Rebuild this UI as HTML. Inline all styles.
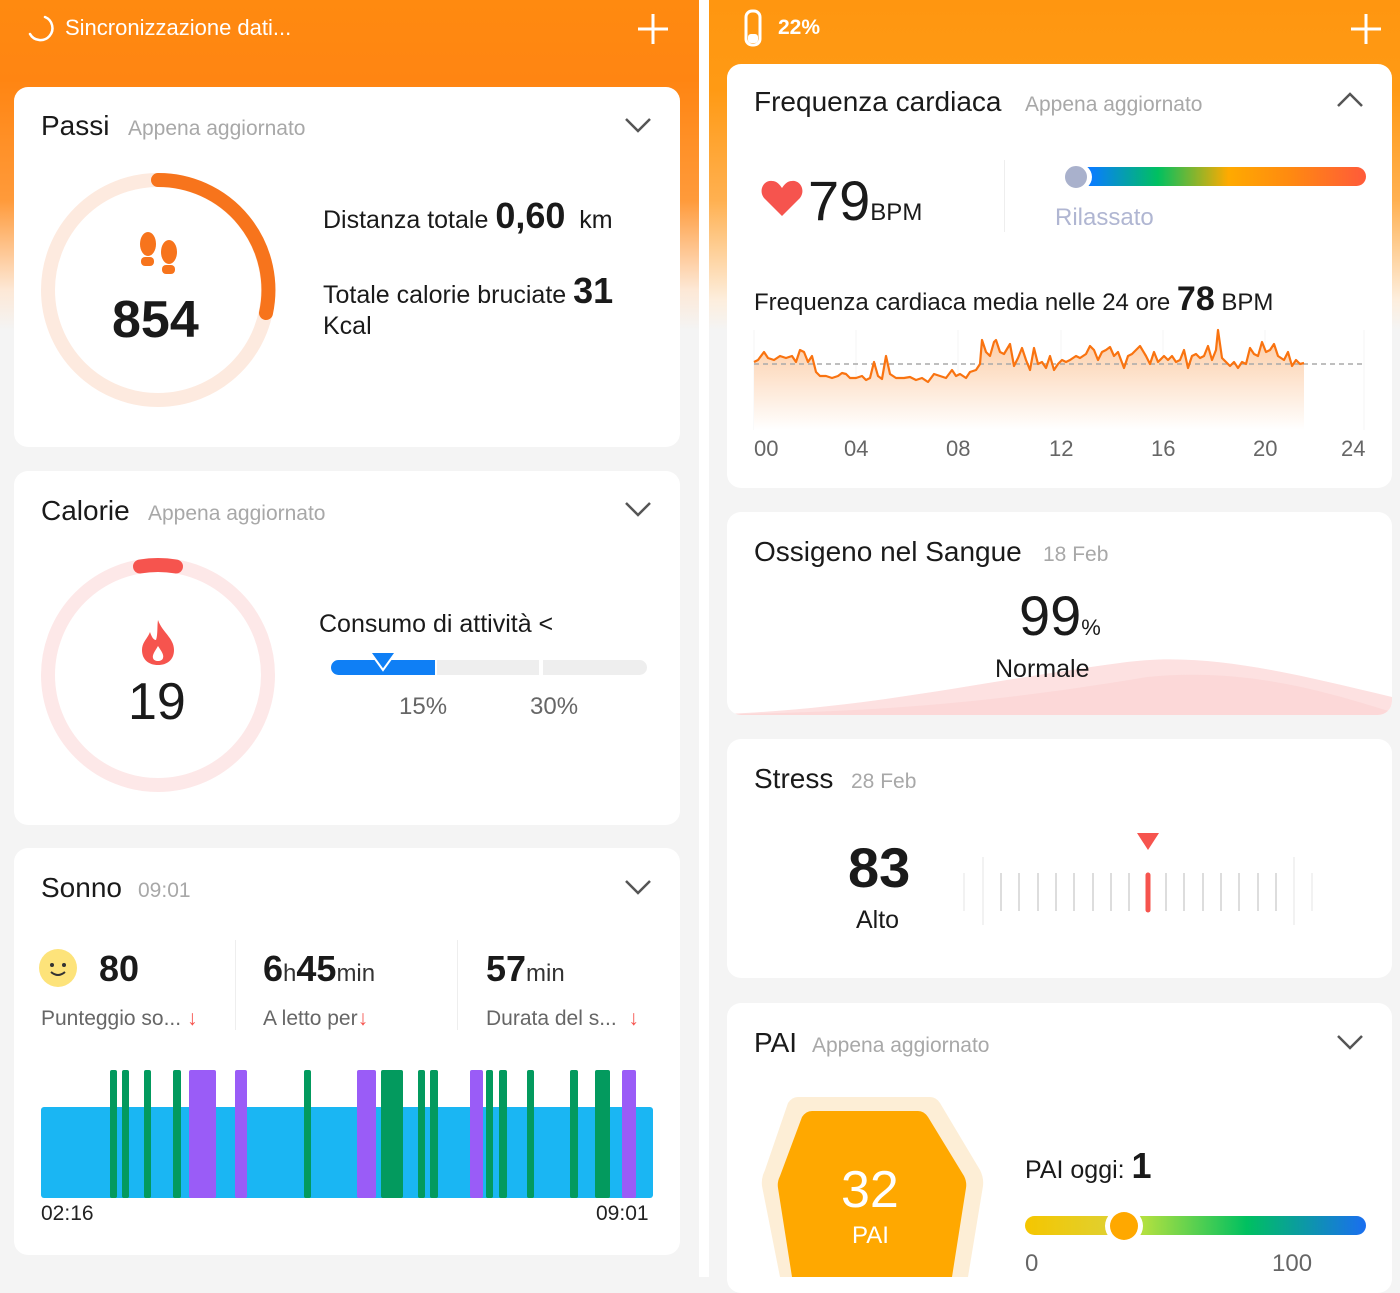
<!DOCTYPE html>
<html><head><meta charset="utf-8"><style>
*{margin:0;padding:0;box-sizing:border-box}
body{width:1400px;height:1277px;overflow:hidden;background:#f4f4f4;font-family:"Liberation Sans",sans-serif;color:#1a1a1a;position:relative}
.a{position:absolute;white-space:nowrap}
.card{position:absolute;background:#fff;border-radius:14px}
.t{font-size:28px;color:#1a1a1a}
.s{font-size:21px;color:#a8a8a8}
.g{color:#666}
</style></head><body>
<div class="a" style="left:0;top:0;width:699px;height:330px;background:linear-gradient(180deg,#ff8a10 0,#ff8512 80px,#ff9a3a 200px,#fde8d6 290px,#f4f4f4 330px)"></div>
<div class="a" style="left:709px;top:0;width:691px;height:330px;background:linear-gradient(180deg,#ff9610 0,#ff9a14 90px,#ffb050 200px,#fdeedd 300px,#f4f4f4 330px)"></div>
<div class="a" style="left:699px;top:0;width:10px;height:1277px;background:#fff"></div>

<!-- top bar left -->
<svg class="a" style="left:24px;top:12px" width="34" height="34"><path d="M21 5 A12 12 0 1 1 6 22" fill="none" stroke="#fff" stroke-width="2.5" stroke-linecap="round"/></svg>
<div class="a" style="left:65px;top:15px;font-size:22px;color:#fff">Sincronizzazione dati...</div>
<svg class="a" style="left:637px;top:13px" width="32" height="32"><path d="M16 1 V31 M1 16 H31" stroke="#fff" stroke-width="3"/></svg>
<svg class="a" style="left:742px;top:8px" width="22" height="40"><rect x="4" y="3" width="14" height="34" rx="6" fill="none" stroke="#fff" stroke-width="3"/><rect x="6" y="26" width="10" height="9" rx="3" fill="#fff"/></svg>
<div class="a" style="left:778px;top:16px;font-size:21px;color:#fff;font-weight:bold">22%</div>
<svg class="a" style="left:1350px;top:13px" width="32" height="32"><path d="M16 1 V31 M1 16 H31" stroke="#fff" stroke-width="3"/></svg>

<!-- Passi -->
<div class="card" style="left:14px;top:87px;width:666px;height:360px"></div>
<div class="a t" style="left:41px;top:110px">Passi</div>
<div class="a s" style="left:128px;top:117px">Appena aggiornato</div>
<svg class="a" style="left:624px;top:116px" width="30" height="20"><path d="M2 3 L14 15 L26 3" fill="none" stroke="#555" stroke-width="2.5"/></svg>
<svg class="a" style="left:38px;top:170px" width="240" height="240"><circle cx="120" cy="120" r="110" fill="none" stroke="#fdeadf" stroke-width="14"/><path d="M120 10 A110 110 0 0 1 228 143" fill="none" stroke="#f7741c" stroke-width="14" stroke-linecap="round"/></svg>
<svg class="a" style="left:138px;top:230px" width="42" height="48"><ellipse cx="10" cy="14" rx="8" ry="12" fill="#f7741c"/><rect x="3" y="27" width="13" height="9" rx="4" fill="#f7741c"/><ellipse cx="31" cy="22" rx="8" ry="12" fill="#f7741c"/><rect x="24" y="35" width="13" height="9" rx="4" fill="#f7741c"/></svg>
<div class="a" style="left:112px;top:290px;font-size:52px;font-weight:bold">854</div>
<div class="a" style="left:323px;top:195px;font-size:25px">Distanza totale <b style="font-size:36px">0,60</b>&nbsp; km</div>
<div class="a" style="left:323px;top:270px;font-size:25px">Totale calorie bruciate <b style="font-size:36px">31</b></div>
<div class="a" style="left:323px;top:312px;font-size:25px">Kcal</div>

<!-- Calorie -->
<div class="card" style="left:14px;top:471px;width:666px;height:354px"></div>
<div class="a t" style="left:41px;top:495px">Calorie</div>
<div class="a s" style="left:148px;top:502px">Appena aggiornato</div>
<svg class="a" style="left:624px;top:500px" width="30" height="20"><path d="M2 3 L14 15 L26 3" fill="none" stroke="#555" stroke-width="2.5"/></svg>
<svg class="a" style="left:38px;top:555px" width="240" height="240"><circle cx="120" cy="120" r="110" fill="none" stroke="#fde8e8" stroke-width="14"/><path d="M102 11.5 A110 110 0 0 1 138 11.5" fill="none" stroke="#f6544e" stroke-width="14" stroke-linecap="round"/></svg>
<svg class="a" style="left:140px;top:618px" width="36" height="48"><path d="M18 2 C22 14 34 20 34 32 C34 42 27 47 18 47 C9 47 2 42 2 32 C2 24 8 20 10 14 C12 20 14 22 16 22 C18 16 17 8 18 2Z" fill="#f6544e"/><path d="M18 28 C22 34 24 37 23 40 C22 44 14 44 13 40 C12 37 15 33 18 28Z" fill="#fff"/></svg>
<div class="a" style="left:128px;top:672px;font-size:52px">19</div>
<div class="a" style="left:319px;top:610px;font-size:25px">Consumo di attività &lt;</div>
<div class="a" style="left:331px;top:660px;width:104px;height:15px;background:#0f7ff5;border-radius:8px 0 0 8px"></div>
<div class="a" style="left:437px;top:660px;width:102px;height:15px;background:#eeeeee"></div>
<div class="a" style="left:543px;top:660px;width:104px;height:15px;background:#eeeeee;border-radius:0 8px 8px 0"></div>
<svg class="a" style="left:368px;top:650px" width="30" height="24"><path d="M2 2 L28 2 L15 20Z" fill="#0f7ff5" stroke="#fff" stroke-width="2"/></svg>
<div class="a g" style="left:399px;top:693px;font-size:24px">15%</div>
<div class="a g" style="left:530px;top:693px;font-size:24px">30%</div>

<!-- Sonno -->
<div class="card" style="left:14px;top:848px;width:666px;height:407px"></div>
<div class="a t" style="left:41px;top:872px">Sonno</div>
<div class="a s" style="left:138px;top:879px">09:01</div>
<svg class="a" style="left:624px;top:878px" width="30" height="20"><path d="M2 3 L14 15 L26 3" fill="none" stroke="#555" stroke-width="2.5"/></svg>
<svg class="a" style="left:38px;top:948px" width="40" height="40"><circle cx="20" cy="20" r="19" fill="#fde37a"/><circle cx="14" cy="17" r="2" fill="#333"/><circle cx="26" cy="17" r="2" fill="#333"/><path d="M13 24 Q20 30 27 24" fill="none" stroke="#333" stroke-width="2"/></svg>
<div class="a" style="left:99px;top:948px;font-size:36px;font-weight:bold">80</div>
<div class="a" style="left:263px;top:948px;font-size:36px;font-weight:bold">6<span style="font-size:24px;font-weight:normal;color:#333">h</span>45<span style="font-size:24px;font-weight:normal;color:#333">min</span></div>
<div class="a" style="left:486px;top:948px;font-size:36px;font-weight:bold">57<span style="font-size:24px;font-weight:normal;color:#333">min</span></div>
<div class="a" style="left:235px;top:940px;width:1px;height:90px;background:#eee"></div>
<div class="a" style="left:457px;top:940px;width:1px;height:90px;background:#eee"></div>
<div class="a g" style="left:41px;top:1007px;font-size:21px">Punteggio so... <span style="color:#f6544e">↓</span></div>
<div class="a g" style="left:263px;top:1007px;font-size:21px">A letto per<span style="color:#f6544e">↓</span></div>
<div class="a g" style="left:486px;top:1007px;font-size:21px">Durata del s... &nbsp;<span style="color:#f6544e">↓</span></div>
<svg class="a" style="left:0;top:1060px" width="700" height="150">
<rect x="41" y="47" width="612" height="91" rx="3" fill="#1ab6f3"/>
<g fill="#039a5e">
<rect x="110" y="10" width="7" height="128" rx="2"/><rect x="122" y="10" width="7" height="128" rx="2"/><rect x="144" y="10" width="7" height="128" rx="2"/><rect x="173" y="10" width="8" height="128" rx="2"/><rect x="304" y="10" width="7" height="128" rx="2"/><rect x="381" y="10" width="22" height="128" rx="2"/><rect x="418" y="10" width="7" height="128" rx="2"/><rect x="430" y="10" width="8" height="128" rx="2"/><rect x="486" y="10" width="7" height="128" rx="2"/><rect x="499" y="10" width="8" height="128" rx="2"/><rect x="527" y="10" width="7" height="128" rx="2"/><rect x="570" y="10" width="8" height="128" rx="2"/><rect x="595" y="10" width="15" height="128" rx="2"/></g>
<g fill="#9a5cf7"><rect x="189" y="10" width="27" height="128" rx="2"/><rect x="235" y="10" width="12" height="128" rx="2"/><rect x="357" y="10" width="19" height="128" rx="2"/><rect x="470" y="10" width="13" height="128" rx="2"/><rect x="622" y="10" width="14" height="128" rx="2"/></g>
</svg>
<div class="a" style="left:41px;top:1202px;font-size:21px;color:#222">02:16</div>
<div class="a" style="left:596px;top:1202px;font-size:21px;color:#222">09:01</div>

<!-- HR -->
<div class="card" style="left:727px;top:64px;width:665px;height:424px"></div>
<div class="a t" style="left:754px;top:86px">Frequenza cardiaca</div>
<div class="a s" style="left:1025px;top:93px">Appena aggiornato</div>
<svg class="a" style="left:1336px;top:90px" width="30" height="20"><path d="M2 16 L14 4 L26 16" fill="none" stroke="#555" stroke-width="2.5"/></svg>
<svg class="a" style="left:760px;top:180px" width="44" height="38"><path d="M22 36 L4 18 C-2 10 4 0 12 1 C17 1 20 5 22 8 C24 5 27 1 32 1 C40 0 46 10 40 18Z" fill="#f6544e"/></svg>
<div class="a" style="left:808px;top:168px;font-size:56px;font-weight:500">79<span style="font-size:24px;font-weight:normal">BPM</span></div>
<div class="a" style="left:1004px;top:160px;width:1px;height:72px;background:#eee"></div>
<div class="a" style="left:1060px;top:167px;width:306px;height:19px;border-radius:10px;background:linear-gradient(90deg,#0a7cff 10%,#00c060 32%,#ffaa00 55%,#ff8a10 75%,#ff5a3a 100%)"></div>
<div class="a" style="left:1056px;top:162px;width:36px;height:30px;border-radius:50%;background:#fff"></div>
<div class="a" style="left:1062px;top:163px;width:28px;height:28px;border-radius:50%;background:#a9b1cc;border:3px solid #fff"></div>
<div class="a" style="left:1055px;top:204px;font-size:24px;color:#b0b6d2">Rilassato</div>
<div class="a" style="left:754px;top:280px;font-size:24px">Frequenza cardiaca media nelle 24 ore <b style="font-size:34px">78</b> BPM</div>
<svg class="a" style="left:0;top:0" width="1400" height="480">
<defs><linearGradient id="hf" x1="0" y1="0" x2="0" y2="1"><stop offset="0" stop-color="#fcc9a0"/><stop offset="1" stop-color="#fff"/></linearGradient></defs>
<g stroke="#f4f4f4" stroke-width="1"><line x1="754" y1="330" x2="754" y2="430"/><line x1="856" y1="330" x2="856" y2="430"/><line x1="958" y1="330" x2="958" y2="430"/><line x1="1061" y1="330" x2="1061" y2="430"/><line x1="1163" y1="330" x2="1163" y2="430"/><line x1="1265" y1="330" x2="1265" y2="430"/><line x1="1364" y1="330" x2="1364" y2="430"/></g>
<polygon fill="url(#hf)" points="754,362 758,360 764,352 768,358 774,360 780,356 786,358 792,356 796,362 800,350 804,352 808,362 812,356 816,372 820,376 826,376 832,378 838,376 842,373 846,374 850,378 856,378 862,376 866,380 870,378 874,362 878,376 882,379 886,356 890,374 896,378 904,378 910,377 916,380 922,378 928,382 934,374 940,376 946,378 952,370 956,376 960,374 966,378 970,372 976,370 980,364 982,340 986,352 990,356 994,342 996,340 1000,352 1004,354 1010,344 1014,366 1018,358 1022,348 1026,360 1030,370 1034,348 1038,364 1042,362 1046,368 1050,356 1054,370 1058,364 1062,360 1066,362 1070,360 1076,356 1080,358 1086,354 1090,346 1094,350 1098,360 1102,352 1106,350 1110,347 1114,356 1118,352 1124,368 1128,356 1132,354 1136,350 1140,346 1146,356 1150,364 1154,352 1158,362 1164,356 1168,360 1172,356 1176,362 1180,360 1184,350 1188,368 1192,356 1196,354 1200,358 1204,356 1208,346 1212,360 1216,350 1218,330 1222,358 1226,362 1230,366 1234,362 1238,368 1242,362 1246,364 1250,348 1254,354 1258,356 1262,342 1266,352 1270,350 1274,344 1278,356 1284,360 1288,352 1292,366 1296,360 1300,364 1304,363 1304,430 754,430"/>
<line x1="754" y1="364" x2="1364" y2="364" stroke="#aaa" stroke-width="1.5" stroke-dasharray="5,4"/>
<polyline fill="none" stroke="#f97310" stroke-width="2.2" stroke-linejoin="round" points="754,362 758,360 764,352 768,358 774,360 780,356 786,358 792,356 796,362 800,350 804,352 808,362 812,356 816,372 820,376 826,376 832,378 838,376 842,373 846,374 850,378 856,378 862,376 866,380 870,378 874,362 878,376 882,379 886,356 890,374 896,378 904,378 910,377 916,380 922,378 928,382 934,374 940,376 946,378 952,370 956,376 960,374 966,378 970,372 976,370 980,364 982,340 986,352 990,356 994,342 996,340 1000,352 1004,354 1010,344 1014,366 1018,358 1022,348 1026,360 1030,370 1034,348 1038,364 1042,362 1046,368 1050,356 1054,370 1058,364 1062,360 1066,362 1070,360 1076,356 1080,358 1086,354 1090,346 1094,350 1098,360 1102,352 1106,350 1110,347 1114,356 1118,352 1124,368 1128,356 1132,354 1136,350 1140,346 1146,356 1150,364 1154,352 1158,362 1164,356 1168,360 1172,356 1176,362 1180,360 1184,350 1188,368 1192,356 1196,354 1200,358 1204,356 1208,346 1212,360 1216,350 1218,330 1222,358 1226,362 1230,366 1234,362 1238,368 1242,362 1246,364 1250,348 1254,354 1258,356 1262,342 1266,352 1270,350 1274,344 1278,356 1284,360 1288,352 1292,366 1296,360 1300,364 1304,363"/>
</svg>
<div class="a g" style="left:754px;top:436px;font-size:22px">00</div>
<div class="a g" style="left:844px;top:436px;font-size:22px">04</div>
<div class="a g" style="left:946px;top:436px;font-size:22px">08</div>
<div class="a g" style="left:1049px;top:436px;font-size:22px">12</div>
<div class="a g" style="left:1151px;top:436px;font-size:22px">16</div>
<div class="a g" style="left:1253px;top:436px;font-size:22px">20</div>
<div class="a g" style="left:1341px;top:436px;font-size:22px">24</div>

<!-- Ossigeno -->
<div class="card" style="left:727px;top:512px;width:665px;height:203px;overflow:hidden">
<svg class="a" style="left:0;top:130px" width="665" height="73"><path d="M0 72 C150 65 250 40 400 20 C480 10 560 30 665 55 L665 73 L0 73Z" fill="#fde1e1"/><path d="M0 72 C180 70 300 55 420 35 C520 25 600 50 665 70 L665 73 L0 73Z" fill="#fcd2d2" opacity="0.6"/></svg>
</div>
<div class="a t" style="left:754px;top:536px">Ossigeno nel Sangue</div>
<div class="a s" style="left:1043px;top:543px">18 Feb</div>
<div class="a" style="left:1019px;top:583px;font-size:56px;font-weight:500">99<span style="font-size:22px">%</span></div>
<div class="a" style="left:995px;top:655px;font-size:25px">Normale</div>

<!-- Stress -->
<div class="card" style="left:727px;top:739px;width:665px;height:239px"></div>
<div class="a t" style="left:754px;top:763px">Stress</div>
<div class="a s" style="left:851px;top:770px">28 Feb</div>
<div class="a" style="left:848px;top:835px;font-size:56px;font-weight:bold">83</div>
<div class="a" style="left:856px;top:906px;font-size:25px">Alto</div>
<svg class="a" style="left:950px;top:830px" width="400" height="100">
<path d="M187 3 L209 3 L198 20Z" fill="#f6544e"/>
<g stroke="#ddd" stroke-width="2"><line x1="14" y1="43" x2="14" y2="81" stroke="#f2f2f2"/><line x1="33" y1="27" x2="33" y2="95" stroke="#f2f2f2"/><line x1="51" y1="43" x2="51" y2="81"/><line x1="69" y1="43" x2="69" y2="81"/><line x1="88" y1="43" x2="88" y2="81"/><line x1="106" y1="43" x2="106" y2="81"/><line x1="124" y1="43" x2="124" y2="81"/><line x1="143" y1="43" x2="143" y2="81"/><line x1="161" y1="43" x2="161" y2="81"/><line x1="179" y1="43" x2="179" y2="81"/><line x1="216" y1="43" x2="216" y2="81"/><line x1="234" y1="43" x2="234" y2="81"/><line x1="253" y1="43" x2="253" y2="81"/><line x1="271" y1="43" x2="271" y2="81"/><line x1="289" y1="43" x2="289" y2="81"/><line x1="308" y1="43" x2="308" y2="81"/><line x1="326" y1="43" x2="326" y2="81"/><line x1="344" y1="27" x2="344" y2="95" stroke="#f2f2f2"/><line x1="362" y1="43" x2="362" y2="81" stroke="#f2f2f2"/></g>
<line x1="198" y1="45" x2="198" y2="80" stroke="#f6544e" stroke-width="5" stroke-linecap="round"/>
</svg>

<!-- PAI -->
<div class="card" style="left:727px;top:1003px;width:665px;height:290px"></div>
<div class="a t" style="left:754px;top:1027px">PAI</div>
<div class="a s" style="left:812px;top:1034px">Appena aggiornato</div>
<svg class="a" style="left:1336px;top:1033px" width="30" height="20"><path d="M2 3 L14 15 L26 3" fill="none" stroke="#555" stroke-width="2.5"/></svg>
<svg class="a" style="left:740px;top:1090px" width="260" height="187">
<path d="M58 7 L190 7 Q196 7 200 13 L240 80 Q244 88 243 96 L228 187 L40 187 L22 96 Q21 88 25 80 L48 13 Q52 7 58 7Z" fill="#fdeed6"/>
<path d="M72 21 L178 21 Q184 21 188 27 L224 86 Q227 92 226 98 L212 187 L52 187 L38 98 Q37 92 40 86 L62 27 Q66 21 72 21Z" fill="#ffa800"/>
</svg>
<div class="a" style="left:841px;top:1160px;font-size:52px;color:#fff">32</div>
<div class="a" style="left:852px;top:1222px;font-size:24px;color:#fff">PAI</div>
<div class="a" style="left:1025px;top:1145px;font-size:25px">PAI oggi: <b style="font-size:36px">1</b></div>
<div class="a" style="left:1025px;top:1216px;width:341px;height:19px;border-radius:10px;background:linear-gradient(90deg,#f5c600 0,#e0d030 25%,#b0e040 35%,#00c060 65%,#1a6ef0 100%)"></div>
<div class="a" style="left:1105px;top:1208px;width:38px;height:36px;border-radius:50%;background:#fff"></div>
<div class="a" style="left:1110px;top:1212px;width:28px;height:28px;border-radius:50%;background:#ffa800"></div>
<div class="a g" style="left:1025px;top:1250px;font-size:24px">0</div>
<div class="a g" style="left:1272px;top:1250px;font-size:24px">100</div>
</body></html>
